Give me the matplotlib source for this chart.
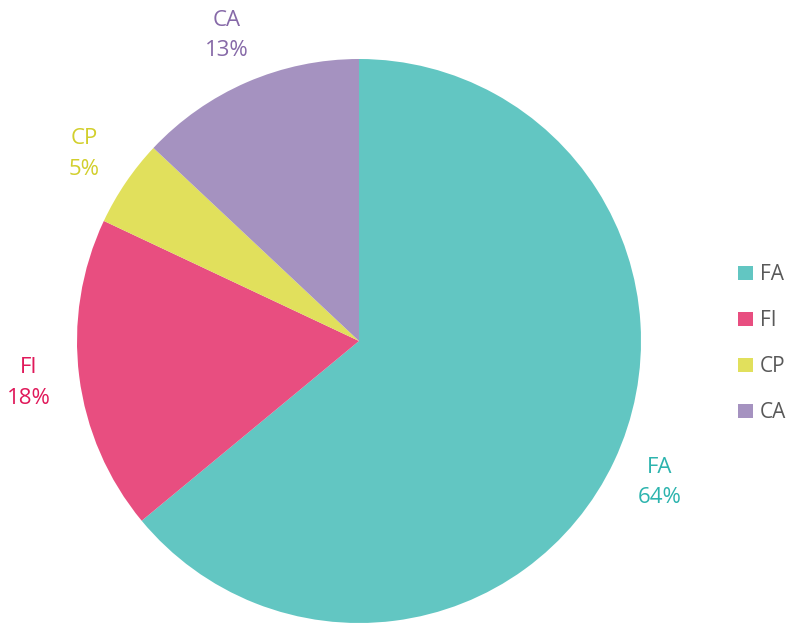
import matplotlib.pyplot as plt
import numpy as np

labels = ['FA', 'FI', 'CP', 'CA']
shares = [64, 18, 5, 13]
wedge_colors = ['#62c6c2', '#e84e80', '#e1e05c', '#a592c0']
text_colors = ['#2db4ae', '#e0195a', '#d2cf2c', '#8669a8']

plt.rcParams['font.family'] = ['Open Sans', 'DejaVu Sans']

fig = plt.figure(figsize=(7.88, 6.23), dpi=100)
# pie centred at (359, 341) px, radius 282 px
ax = fig.add_axes([(359 - 282) / 788, (623 - 341 - 282) / 623, 564 / 788, 564 / 623])

wedges, _ = ax.pie(shares, colors=wedge_colors, startangle=90, counterclock=False,
                   radius=1, wedgeprops=dict(linewidth=0))
ax.set_xlim(-1, 1)
ax.set_ylim(-1, 1)
ax.set_aspect('auto')
ax.axis('off')

# data labels outside each wedge
for w, lab, s, c in zip(wedges, labels, shares, text_colors):
    mid = np.deg2rad((w.theta1 + w.theta2) / 2)
    r = 1.18
    ax.text(r * np.cos(mid), r * np.sin(mid), '{}\n{}%'.format(lab, s),
            ha='center', va='center', color=c, fontsize=16, linespacing=1.6,
            clip_on=False)

leg = fig.legend(wedges, labels, loc='center left', bbox_to_anchor=(0.926, 0.448),
                 frameon=False, handlelength=0.7, handleheight=0.7, handletextpad=0.35,
                 labelspacing=1.2, fontsize=15, borderaxespad=0)
for t in leg.get_texts():
    t.set_color('#595959')

fig.savefig('out.png', dpi=100)
